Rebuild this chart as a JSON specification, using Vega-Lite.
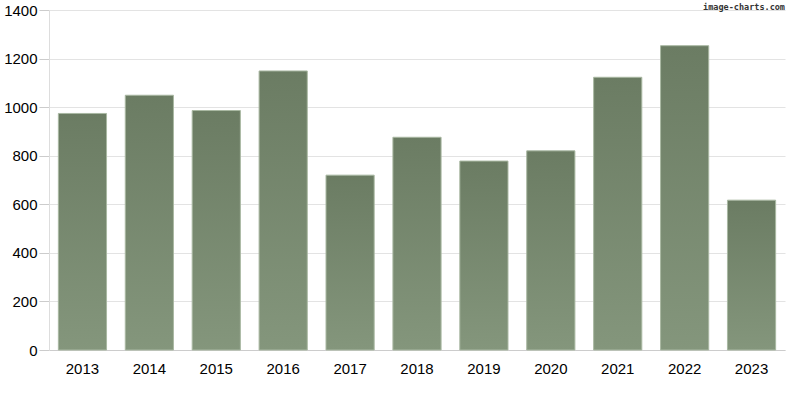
{
  "$schema": "https://vega.github.io/schema/vega-lite/v6.json",
  "width": 736,
  "height": 340,
  "autosize": "none",
  "padding": {"left": 49, "top": 10, "right": 3, "bottom": 44},
  "background": "white",
  "title": {
    "text": "image-charts.com",
    "anchor": "end",
    "orient": "top",
    "offset": -17,
    "font": "DejaVu Sans Mono",
    "fontSize": 8.5,
    "fontWeight": "bold",
    "color": "#333333",
    "baseline": "bottom"
  },
  "data": {
    "values": [
      {"year": "2013", "value": 974},
      {"year": "2014", "value": 1049},
      {"year": "2015", "value": 986},
      {"year": "2016", "value": 1149},
      {"year": "2017", "value": 720},
      {"year": "2018", "value": 876},
      {"year": "2019", "value": 778},
      {"year": "2020", "value": 820},
      {"year": "2021", "value": 1123},
      {"year": "2022", "value": 1253},
      {"year": "2023", "value": 617}
    ]
  },
  "mark": {
    "type": "bar",
    "stroke": "#a9b8a2",
    "strokeWidth": 1,
    "color": {
      "gradient": "linear",
      "x1": 0, "y1": 0, "x2": 0, "y2": 1,
      "stops": [
        {"offset": 0, "color": "#6b7c63"},
        {"offset": 1, "color": "#84967c"}
      ]
    }
  },
  "encoding": {
    "x": {
      "field": "year",
      "type": "nominal",
      "sort": null,
      "title": null,
      "scale": {"paddingInner": 0.28, "paddingOuter": 0.14},
      "axis": {
        "labelAngle": 0,
        "labelFont": "Liberation Sans",
        "labelFontSize": 15,
        "labelColor": "#000000",
        "labelPadding": 11,
        "ticks": false,
        "domainColor": "#cccccc",
        "grid": false
      }
    },
    "y": {
      "field": "value",
      "type": "quantitative",
      "title": null,
      "scale": {"domain": [0, 1400], "nice": false},
      "axis": {
        "values": [0, 200, 400, 600, 800, 1000, 1200, 1400],
        "format": "d",
        "labelFont": "Liberation Sans",
        "labelFontSize": 15,
        "labelColor": "#000000",
        "labelPadding": 2,
        "ticks": true,
        "tickSize": 10,
        "tickColor": "#cccccc",
        "domainColor": "#dddddd",
        "gridColor": "#e3e3e3",
        "grid": true
      }
    }
  },
  "config": {"view": {"stroke": null}}
}
